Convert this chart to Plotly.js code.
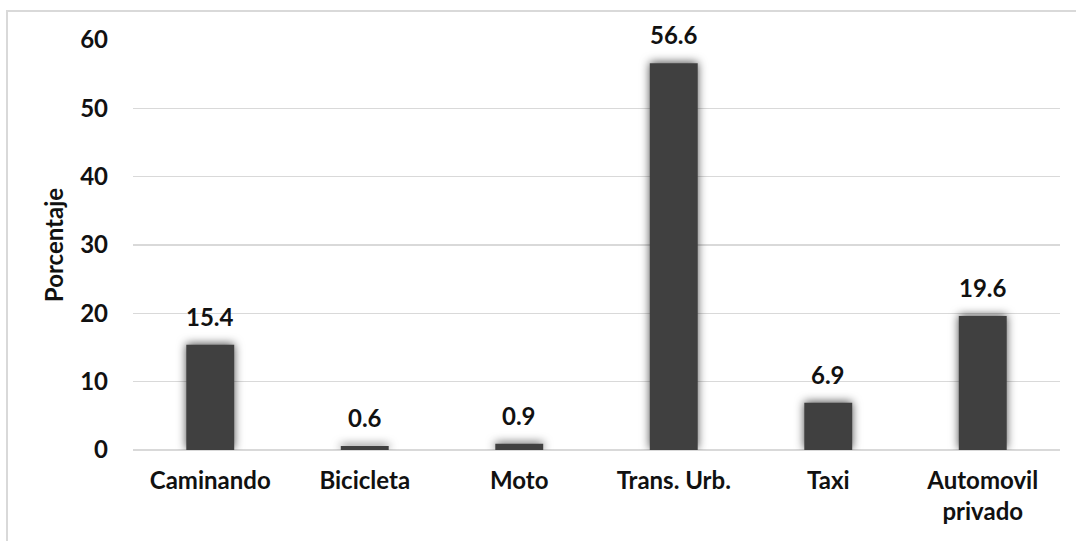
<!DOCTYPE html>
<html>
<head>
<meta charset="utf-8">
<script src="https://cdn.plot.ly/plotly-3.0.1.min.js"></script>
<style>
  html, body { margin: 0; padding: 0; background: #fff; }
  #wrap { position: relative; width: 1076px; height: 541px; overflow: hidden; }
  #frame { position: absolute; left: 6px; top: 10px; width: 1200px; height: 700px;
           border-left: 2px solid #d9d9d9; border-top: 2px solid #d9d9d9; pointer-events: none; }
  #chart { position: absolute; left: 0; top: 0; width: 1076px; height: 541px; }
  .barlayer .point path { filter: drop-shadow(0px -1px 5px rgba(0,0,0,0.7)); }
</style>
</head>
<body>
<div id="wrap">
  <div id="chart"></div>
  <div id="frame"></div>
</div>
<script>
// Modo de transporte (porcentaje)
const categories = ["Caminando", "Bicicleta", "Moto", "Trans. Urb.", "Taxi", "Automovil<br>privado"];
const values = [15.4, 0.6, 0.9, 56.6, 6.9, 19.6];
const yTicks = [0, 10, 20, 30, 40, 50, 60];

const font = { family: "Lato, 'Open Sans', sans-serif", size: 24, color: "#111", weight: "bold" };

const trace = {
  type: "bar",
  x: categories,
  y: values,
  marker: { color: "#404040", line: { width: 0 } },
  hoverinfo: "skip"
};

const annotations = categories.map((c, i) => ({
  x: c,
  y: values[i],
  xref: "x",
  yref: "y",
  text: values[i].toFixed(1),
  showarrow: false,
  yanchor: "bottom",
  yshift: 12,
  font: font
}));

const layout = {
  width: 1076,
  height: 541,
  margin: { l: 133, r: 16, t: 40, b: 91 },
  paper_bgcolor: "rgba(0,0,0,0)",
  plot_bgcolor: "rgba(0,0,0,0)",
  font: font,
  showlegend: false,
  bargap: 0.69,
  xaxis: {
    type: "category",
    showgrid: false,
    showline: false,
    zeroline: false,
    ticks: "",
    ticklabelstandoff: 14,
    tickfont: font
  },
  yaxis: {
    range: [0, 60],
    tickvals: yTicks,
    ticktext: yTicks.map(String),
    showgrid: true,
    gridcolor: "#d9d9d9",
    gridwidth: 1.4,
    zeroline: true,
    zerolinecolor: "#d9d9d9",
    zerolinewidth: 1.4,
    showline: false,
    ticks: "",
    ticklabelstandoff: 24,
    tickfont: font,
    title: { text: "Porcentaje", font: font, standoff: 9 }
  },
  annotations: annotations
};

Plotly.newPlot("chart", [trace], layout, { staticPlot: true, displayModeBar: false });
</script>
</body>
</html>
